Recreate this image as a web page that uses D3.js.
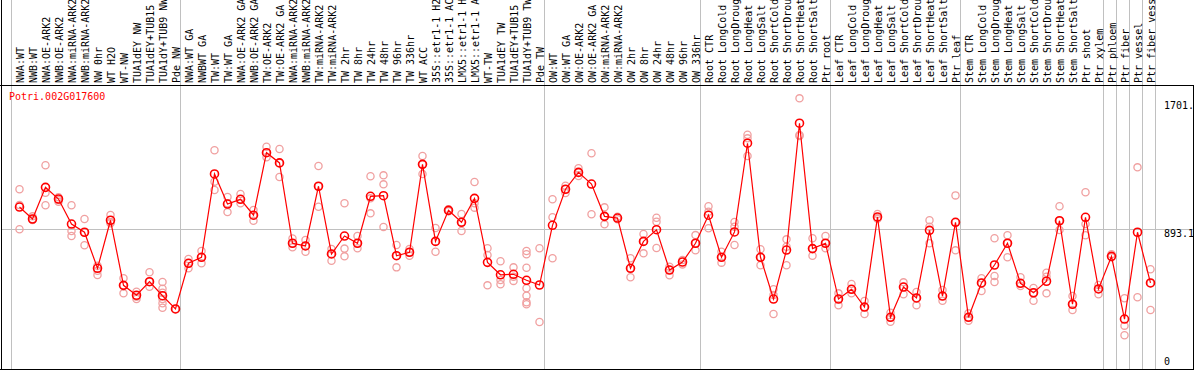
<!DOCTYPE html>
<html><head><meta charset="utf-8">
<script src="https://cdn.jsdelivr.net/npm/d3@7"></script>
<style>body{margin:0;background:#fff}svg{display:block}text{font-family:"DejaVu Sans Mono",monospace;font-size:10px}</style>
</head><body><svg id="c" width="1194" height="370"></svg>
<script>
const categories = ["NWA:WT","NWB:WT","NWA:OE-ARK2","NWB:OE-ARK2","NWA:miRNA-ARK2","NWB:miRNA-ARK2","NW 0hr","WT H2O","WT-NW","TUA1dEY NW","TUA1dEY+TUB15","TUA1dY+TUB9 NW","Pde NW",
"NWA:WT GA","NWBWT GA","TW:WT","TW:WT GA","NWA:OE-ARK2 GA","NWB:OE-ARK2 GA","TW:OE-ARK2","TW:OE-ARK2 GA","NWA:miRNA-ARK2","NWB:miRNA-ARK2","TW:miRNA-ARK2","TW:miRNA-ARK2","TW 2hr","TW 8hr","TW 24hr","TW 48hr","TW 96hr","TW 336hr","WT ACC","35S::etr1-1 H2","35S::etr1-1 AC","LMX5::etr1-1 H","LMX5::etr1-1 A","WT-TW","TUA1dEY TW","TUA1dEY+TUB15","TUA1dY+TUB9 TW","Pde TW",
"OW:WT","OW:WT GA","OW:OE-ARK2","OW:OE-ARK2 GA","OW:miRNA-ARK2","OW:miRNA-ARK2","OW 2hr","OW 8hr","OW 24hr","OW 48hr","OW 96hr","OW 336hr",
"Root CTR","Root LongCold","Root LongDroug","Root LongHeat","Root LongSalt","Root ShortCold","Root ShortDrou","Root ShortHeat","Root ShortSalt","Ptr root",
"Leaf CTR","Leaf LongCold","Leaf LongDroug","Leaf LongHeat","Leaf LongSalt","Leaf ShortCold","Leaf ShortDrou","Leaf ShortHeat","Leaf ShortSalt","Ptr leaf",
"Stem CTR","Stem LongCold","Stem LongDroug","Stem LongHeat","Stem LongSalt","Stem ShortCold","Stem ShortDrou","Stem ShortHeat","Stem ShortSalt","Ptr shoot","Ptr xylem",
"Ptr phloem","Ptr fiber","Ptr vessel","Ptr fiber vess"];

// index of first category of each group (a separator line is drawn before each)
const groupStarts = [0,13,41,53,63,73,84,85,86,87,88];

const means = [1030,954,1155,1081,922,870,641,946,533,470,556,467,383,
673,711,1240,1049,1079,978,1375,1310,800,783,1162,732,846,800,1098,1102,721,743,1301,812,1009,933,1085,679,600,603,565,535,
914,1143,1250,1176,971,960,641,812,886,630,681,800,
978,711,872,1435,711,446,757,1562,766,800,
446,508,395,967,330,522,453,882,465,933,
330,548,662,800,546,486,559,943,413,965,510,
717,319,870,548];

const replicates = [
[1143,1043,889],[971,954,947],[1295,1121,1041],[1092,1075,1064],[1041,878,846],[954,870,787],[658,626,599],[979,933,927],[578,533,482],[493,461,446],[616,556,524],[554,512,486,446,419,391],[383],
[700,673,641],[751,711,673],[1390,1191,1138],[1094,1054,998],[1113,1079,1054],[1011,978,943],[1413,1375,1346],[1398,1310,1221],[831,800,774],[821,783,746],[1290,1162,1032],[764,732,689],[1054,766,717],[846,800,768],[1225,1085,990],[1231,1174,903],[789,721,647],[764,743,721],[1354,1301,1240],[897,812,746],[1016,1009,1003],[986,933,878],[1189,1054,1026],[768,726,533],[686,567,540],[647,588,561],[751,730,645,514,467,425,413],[768,300],
[1079,965,705],[1165,1143,1119],[1276,1250,1227],[1371,984],[1028,971,920],[969,952],[705,641,584],[859,812,736],[962,937,770],[651,630,597],[694,666],[852,800,755],
[1035,1000,895],[746,711,677],[935,905,789],[1489,1466,1354],[762,711,660],[508,472,351],[825,778,660],[1720,1487,1481],[832,766,721],[846,800,768],
[482,446,406],[541,508,482],[434,395,351],[986,960,955],[359,330,302],[552,522,476],[491,453,406],[946,905,800],[503,465,435],[1104,933,755],
[355,330,308],[578,548,497],[832,592,554],[851,800,711],[584,546,529],[516,486,435],[613,588,482],[1035,943,884],[465,413,376],[1124,922,851],[535,510,476],
[730,711],[451,277,216],[1282,457],[635,548,376]];

const yTicks = [1701, 893.1, 0];
const yTickLabels = ["1701.","893.1","0"];
const gridValue = 893.1;
const title = "Potri.002G017600";

const svg = d3.select("#c");
const W = 1194, H = 370;
const plotL = 11, plotR = 1155, plotBottom = 369.3;

const x = d3.scaleBand().domain(d3.range(categories.length)).range([plotL, plotR]).paddingInner(0).paddingOuter(0);
const y = d3.scaleLinear().domain([0, 1701]).range([plotBottom, plotBottom - 1701*0.15754]);
const px = i => x(i) + 8.5;

// horizontal gridline
svg.append("line").attr("x1",1).attr("x2",W-1).attr("y1",Math.round(y(gridValue))+0.5).attr("y2",Math.round(y(gridValue))+0.5)
  .attr("stroke","#c0c0c0").attr("stroke-width",1);

// vertical separators
svg.selectAll("line.sep").data(groupStarts).join("line").attr("class","sep")
  .attr("x1", d => (d < categories.length ? x(d) : plotR) + 0.5)
  .attr("x2", d => (d < categories.length ? x(d) : plotR) + 0.5)
  .attr("y1",0).attr("y2",369).attr("stroke","#c0c0c0").attr("stroke-width",1);

// frame
svg.append("line").attr("x1",0).attr("x2",W).attr("y1",85.5).attr("y2",85.5).attr("stroke","#000");
svg.append("line").attr("x1",0).attr("x2",W).attr("y1",369.5).attr("y2",369.5).attr("stroke","#000");
svg.append("line").attr("x1",1.5).attr("x2",1.5).attr("y1",0).attr("y2",370).attr("stroke","#000");
svg.append("line").attr("x1",1193.5).attr("x2",1193.5).attr("y1",85).attr("y2",370).attr("stroke","#000");

// header labels
svg.selectAll("text.cat").data(categories).join("text").attr("class","cat")
  .attr("transform",(d,i)=>`translate(${x(i)+12.5},83) rotate(-90)`)
  .attr("fill","#000").text(d => d.slice(0,14));

// title
svg.append("text").attr("x",9).attr("y",100).attr("fill","#ff0000").text(title);

// right labels
svg.selectAll("text.yl").data(yTicks).join("text").attr("class","yl")
  .attr("x",1164).attr("y",(d)=>Math.min(y(d)+8, 365)).attr("fill","#000")
  .text((d,i)=>yTickLabels[i]);

// replicate points
const reps = [];
replicates.forEach((arr,i)=>arr.forEach(v=>reps.push({i,v})));
svg.selectAll("circle.rep").data(reps).join("circle").attr("class","rep")
  .attr("cx",d=>px(d.i)).attr("cy",d=>y(d.v)).attr("r",3.6)
  .attr("fill","none").attr("stroke","#f0a0a0").attr("stroke-width",1.3);

// mean line
svg.append("path").datum(means).attr("fill","none").attr("stroke","#ff0000").attr("stroke-width",1.2)
  .attr("d", d3.line().x((d,i)=>px(i)).y(d=>y(d)));

// mean points
svg.selectAll("circle.mean").data(means).join("circle").attr("class","mean")
  .attr("cx",(d,i)=>px(i)).attr("cy",d=>y(d)).attr("r",4)
  .attr("fill","none").attr("stroke","#ff0000").attr("stroke-width",1.6);
</script></body></html>
